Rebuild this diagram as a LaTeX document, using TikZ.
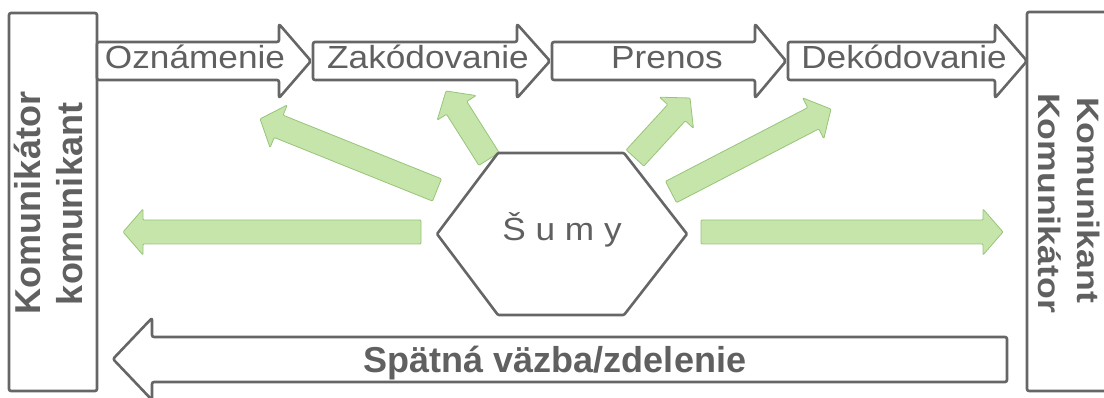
\documentclass[tikz,border=0pt]{standalone}
\usepackage{fontspec}
\setmainfont{Liberation Sans}
\newfontfamily\stagefont[FakeStretch=1.1]{Liberation Sans}
\newfontfamily\receiverfont[FakeStretch=1.15]{Liberation Sans}

\definecolor{linegray}{RGB}{102,102,102}
\definecolor{textgray}{RGB}{96,96,96}
\definecolor{noisefill}{RGB}{198,229,170}
\definecolor{noiseedge}{RGB}{152,196,122}

% block arrow of the upper row: start, head base, tip
\newcommand{\stagearrow}[3]{\draw[outline] (#1,42) -- (#2,42) -- (#2,24) -- (#3,61) -- (#2,98) -- (#2,80) -- (#1,80) -- cycle;}
% green arrow: tail, angle, length
\newcommand{\noisearrow}[3]{\draw[noise, shift={#1}, rotate=#2] (0,-12) -- ({#3-20},-12) -- ({#3-20},-23) -- (#3,0) -- ({#3-20},23) -- ({#3-20},12) -- (0,12) -- cycle;}

\begin{document}
\begin{tikzpicture}
    [
        x=1pt, y=-1pt,
        outline/.style = {draw=linegray, line width=2.6pt, line join=round, rounded corners=2pt, fill=white},
        noise/.style = {draw=noiseedge, line width=0.8pt, fill=noisefill, rounded corners=1pt},
        stage/.style = {text=textgray, font=\stagefont\fontsize{32}{34}\selectfont, inner sep=0pt, anchor=base},
        party/.style = {text=textgray, font=\bfseries\fontsize{36}{38}\selectfont, inner sep=0pt, anchor=base},
        receiver/.style = {text=textgray, font=\receiverfont\bfseries\fontsize{31}{33}\selectfont, inner sep=0pt, anchor=base},
    ]

    \clip (0,0) rectangle (1104,398);

    % sender and receiver
    \draw[outline] (9,13) rectangle (97,391);
    \draw[outline] (1027,12) rectangle (1120,391);

    % upper row
    \stagearrow{97}{279}{311}
    \stagearrow{313}{517}{550}
    \stagearrow{552}{755}{786}
    \stagearrow{788}{995}{1027}

    % feedback
    \draw[outline] (1007,337) -- (152,337) -- (152,318) -- (113,359) -- (152,400) -- (152,382) -- (1007,382) -- cycle;

    % noise
    \noisearrow{(421,232)}{180}{298}
    \noisearrow{(701,232)}{0}{302}
    \noisearrow{(437,190)}{158.1}{190.7}
    \noisearrow{(489,159)}{122.3}{80.5}
    \noisearrow{(635,158)}{47.5}{81.4}
    \noisearrow{(671,192)}{27.4}{180.2}

    \draw[outline, rounded corners=1pt] (437,234) -- (498,153) -- (624,153) -- (687,234) -- (624,315) -- (498,315) -- cycle;

    \node[stage] (ozn) at (195,69) {Oznámenie};
    \node[stage] (zak) at (428,69) {Zakódovanie};
    \node[stage] (pre) at (667,69) {Prenos};
    \node[stage] (dek) at (904,69) {Dekódovanie};
    \node[stage] (sumy) at (562,241) {Š u m y};

    \node[party, rotate=90] (kom1) at (40,203) {Komunikátor};
    \node[party, rotate=90] (kom2) at (82,204) {komunikant};
    \node[receiver, rotate=-90] (kom3) at (1038,203) {Komunikátor};
    \node[receiver, rotate=-90] (kom4) at (1077,200) {Komunikant};

    \node[party] (spat) at (555,372) {Spätná väzba/zdelenie};

\end{tikzpicture}
\end{document}
